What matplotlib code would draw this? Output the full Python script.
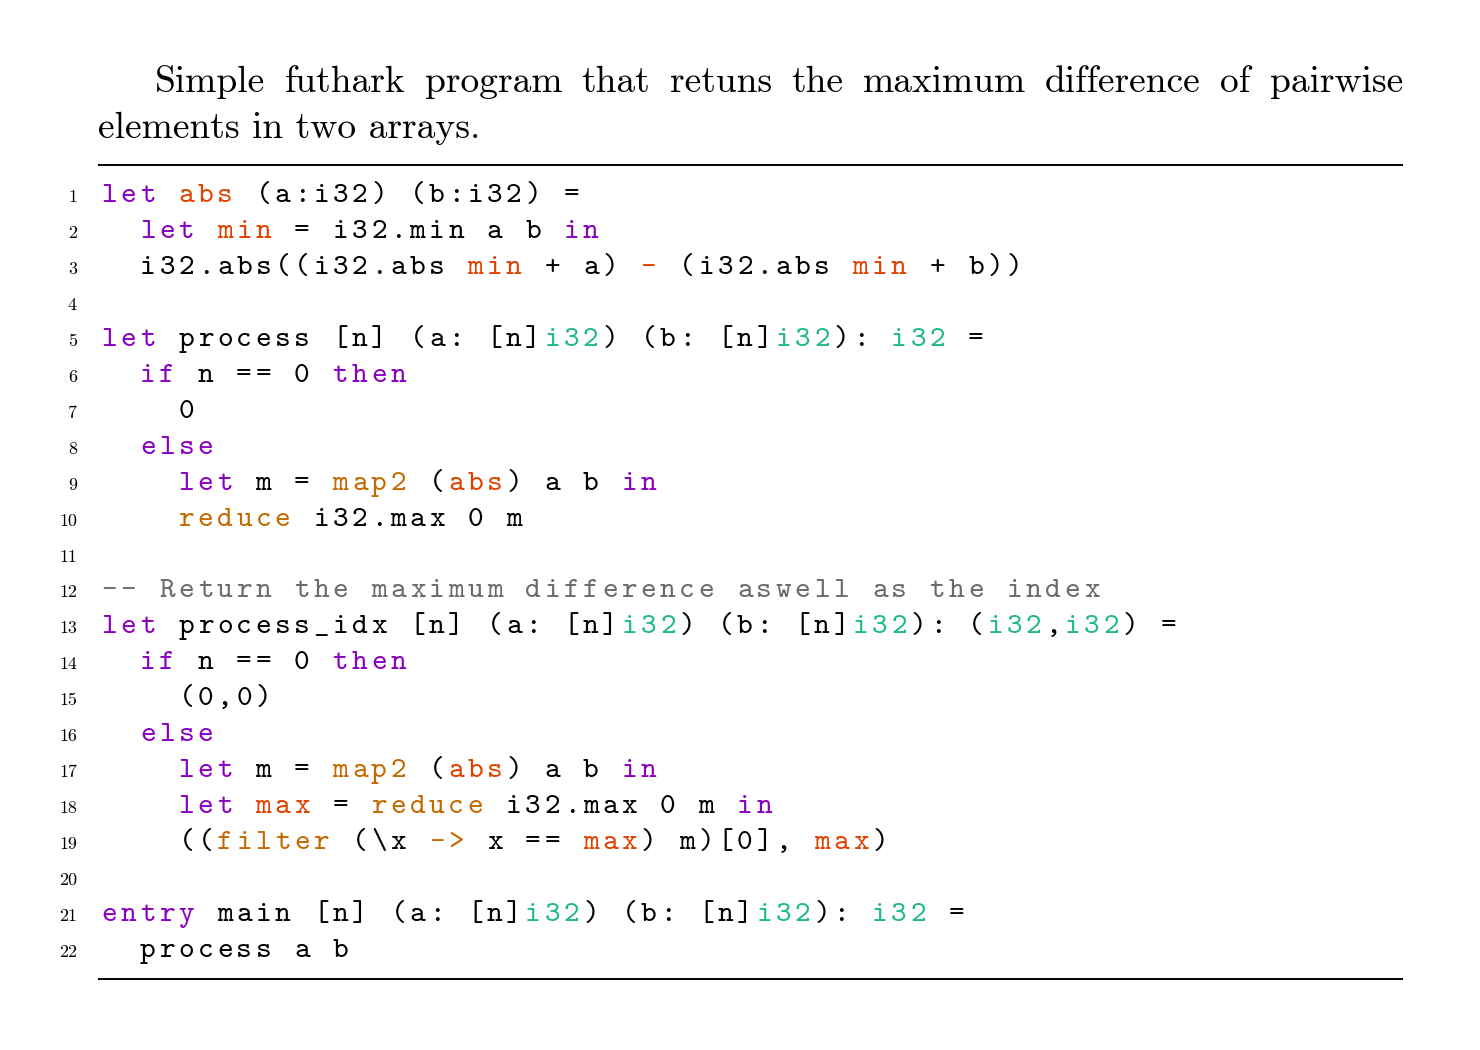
import matplotlib
matplotlib.use("Agg")
import matplotlib.pyplot as plt

# texto do parágrafo
par_linha1 = "Simple futhark program that retuns the maximum difference of pairwise"
par_linha2 = "elements in two arrays."

# cores do realce de sintaxe
cores = {
    "N": "#000000",   # normal
    "K": "#8a00c0",   # palavra-chave
    "F": "#e04300",   # nomes ligados
    "B": "#c46a00",   # funções do prelúdio
    "T": "#1fb98a",   # tipos
    "C": "#6b6b6b",   # comentário
}

# cada linha do código: lista de (tipo, texto)
codigo = [
    [("K", "let"), ("N", " "), ("F", "abs"), ("N", " (a:i32) (b:i32) =")],
    [("N", "  "), ("K", "let"), ("N", " "), ("F", "min"), ("N", " = i32.min a b "), ("K", "in")],
    [("N", "  i32.abs((i32.abs "), ("F", "min"), ("N", " + a) "), ("F", "-"), ("N", " (i32.abs "),
     ("F", "min"), ("N", " + b))")],
    [],
    [("K", "let"), ("N", " process [n] (a: [n]"), ("T", "i32"), ("N", ") (b: [n]"), ("T", "i32"),
     ("N", "): "), ("T", "i32"), ("N", " =")],
    [("N", "  "), ("K", "if"), ("N", " n == 0 "), ("K", "then")],
    [("N", "    0")],
    [("N", "  "), ("K", "else")],
    [("N", "    "), ("K", "let"), ("N", " m = "), ("B", "map2"), ("N", " ("), ("F", "abs"), ("N", ") a b "), ("K", "in")],
    [("N", "    "), ("B", "reduce"), ("N", " i32.max 0 m")],
    [],
    [("C", "-- Return the maximum difference aswell as the index")],
    [("K", "let"), ("N", " process_idx [n] (a: [n]"), ("T", "i32"), ("N", ") (b: [n]"), ("T", "i32"),
     ("N", "): ("), ("T", "i32"), ("N", ","), ("T", "i32"), ("N", ") =")],
    [("N", "  "), ("K", "if"), ("N", " n == 0 "), ("K", "then")],
    [("N", "    (0,0)")],
    [("N", "  "), ("K", "else")],
    [("N", "    "), ("K", "let"), ("N", " m = "), ("B", "map2"), ("N", " ("), ("F", "abs"), ("N", ") a b "), ("K", "in")],
    [("N", "    "), ("K", "let"), ("N", " "), ("F", "max"), ("N", " = "), ("B", "reduce"), ("N", " i32.max 0 m "), ("K", "in")],
    [("N", "    (("), ("B", "filter"), ("N", " (\\x "), ("B", "->"), ("N", " x == "), ("F", "max"),
     ("N", ") m)[0], "), ("F", "max"), ("N", ")")],
    [],
    [("K", "entry"), ("N", " main [n] (a: [n]"), ("T", "i32"), ("N", ") (b: [n]"), ("T", "i32"),
     ("N", "): "), ("T", "i32"), ("N", " =")],
    [("N", "  process a b")],
]

fig = plt.figure(figsize=(14.8, 10.5), dpi=100)
ax = fig.add_axes([0, 0, 1, 1])
ax.set_xlim(0, 1480)
ax.set_ylim(1050, 0)
ax.axis("off")

esq, dir = 98, 1403

# parágrafo justificado
fig.canvas.draw()
renderer = fig.canvas.get_renderer()
palavras = par_linha1.split()
objs = [ax.text(0, 92, p, family="cmr10", fontsize=27, va="baseline", ha="left") for p in palavras]
larg = [t.get_window_extent(renderer).width for t in objs]
x_ini = 155
espaco = (dir - x_ini - sum(larg)) / (len(palavras) - 1)
x = x_ini
for t, w in zip(objs, larg):
    t.set_x(x)
    x += w + espaco
ax.text(esq, 138, par_linha2, family="cmr10", fontsize=27, va="baseline", ha="left")

# réguas
ax.plot([esq, dir], [165, 165], color="black", lw=1.4, solid_capstyle="butt")
ax.plot([esq, dir], [979, 979], color="black", lw=1.4, solid_capstyle="butt")

# listagem
passo_x = 19.26
passo_y = 35.95
x0 = 101.5
y0 = 202
for i, linha in enumerate(codigo):
    y = y0 + i * passo_y
    ax.text(77, y, str(i + 1), family="cmr10", fontsize=13, va="baseline", ha="right")
    col = 0
    for tipo, txt in linha:
        for ch in txt:
            if ch != " ":
                ax.text(x0 + col * passo_x, y, ch, family="cmtt10", fontsize=21.5,
                        color=cores[tipo], va="baseline", ha="left")
            col += 1

fig.savefig("out.png", dpi=100)
